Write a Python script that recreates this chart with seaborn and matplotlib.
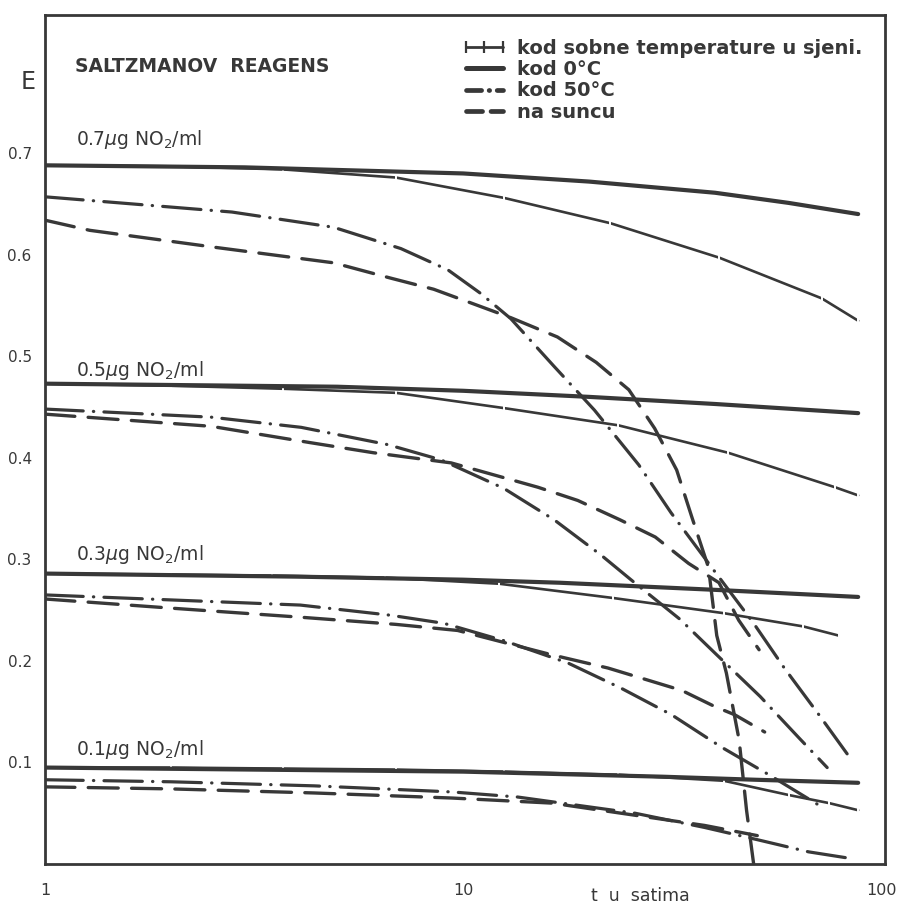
import numpy as np
import pandas as pd
import matplotlib
matplotlib.use("Agg")
import matplotlib.pyplot as plt
from matplotlib.lines import Line2D
from matplotlib.ticker import NullLocator, FixedLocator
import seaborn as sns

# ---------------- data ----------------
# 0.7 ug NO2/ml
room07_t = [1, 2, 3.7, 6.9, 12.5, 22.5, 41, 72, 88]
room07_E = [0.688, 0.687, 0.684, 0.676, 0.656, 0.631, 0.597, 0.557, 0.535]
zero07_t = [1, 3, 10, 20, 40, 60, 88]
zero07_E = [0.688, 0.686, 0.680, 0.672, 0.661, 0.651, 0.640]
fifty07_t = [1, 2.8, 4.9, 7.1, 9.2, 11, 13.0, 16.5, 20.6, 26.3, 31.4, 39.3, 49.5, 58.6, 70.9, 84]
fifty07_E = [0.657, 0.642, 0.627, 0.606, 0.585, 0.562, 0.537, 0.490, 0.447, 0.393, 0.346, 0.292, 0.237, 0.193, 0.147, 0.105]
sun07_t = [1, 1.28, 2.58, 4.9, 6.7, 8.5, 10.05, 13, 16.8, 20.8, 24.9, 28.7, 32.4, 35.2, 38.6, 40.4, 42.6, 45.7, 47.6, 49.5]
sun07_E = [0.634, 0.624, 0.607, 0.592, 0.577, 0.566, 0.555, 0.538, 0.519, 0.494, 0.467, 0.429, 0.388, 0.342, 0.292, 0.225, 0.188, 0.122, 0.053, 0.0]

# 0.5 ug NO2/ml
room05_t = [1, 2, 3.7, 6.9, 12.5, 23.5, 43, 77.5, 88]
room05_E = [0.473, 0.471, 0.468, 0.464, 0.449, 0.432, 0.405, 0.371, 0.363]
zero05_t = [1, 5, 10, 20, 40, 88]
zero05_E = [0.473, 0.470, 0.466, 0.460, 0.453, 0.444]
fifty05_t = [1, 2.5, 4.1, 6.6, 8.85, 12.5, 16.5, 21.4, 25.7, 33.0, 40.4, 51.3, 63.6, 74.2]
fifty05_E = [0.448, 0.440, 0.430, 0.413, 0.398, 0.370, 0.339, 0.304, 0.277, 0.241, 0.206, 0.165, 0.124, 0.095]
sun05_t = [1, 2.5, 4.3, 6.1, 9.36, 15.1, 18.8, 23.7, 28.8, 34.6, 40.9, 45.6, 51]
sun05_E = [0.443, 0.431, 0.415, 0.405, 0.395, 0.371, 0.358, 0.339, 0.322, 0.296, 0.277, 0.240, 0.211]

# 0.3 ug NO2/ml
room03_t = [1, 2, 3.5, 6.5, 12.2, 22.8, 42, 65, 79]
room03_E = [0.286, 0.285, 0.284, 0.282, 0.276, 0.262, 0.247, 0.234, 0.225]
zero03_t = [1, 4, 10, 17, 40, 88]
zero03_E = [0.286, 0.283, 0.280, 0.277, 0.270, 0.263]
fifty03_t = [1, 4.08, 6.7, 9.0, 12.5, 17.8, 23.9, 31.5, 41.5, 53.8, 72.2]
fifty03_E = [0.265, 0.255, 0.245, 0.237, 0.220, 0.198, 0.173, 0.147, 0.115, 0.088, 0.056]
sun03_t = [1, 2, 4.1, 6.9, 9.7, 16.3, 22.2, 26.7, 33.3, 40, 44.6, 52.6]
sun03_E = [0.261, 0.252, 0.243, 0.236, 0.230, 0.206, 0.193, 0.183, 0.171, 0.155, 0.147, 0.130]

# 0.1 ug NO2/ml
room01_t = [1, 2, 3.7, 6.9, 12.5, 23.4, 42, 60, 75, 88]
room01_E = [0.095, 0.095, 0.094, 0.093, 0.091, 0.088, 0.082, 0.068, 0.060, 0.053]
zero01_t = [1, 10, 30, 50, 88]
zero01_E = [0.095, 0.091, 0.086, 0.083, 0.080]
fifty01_t = [1, 2, 4.4, 9.4, 13.5, 25.8, 37.8, 50.5, 67, 86]
fifty01_E = [0.083, 0.081, 0.077, 0.071, 0.066, 0.050, 0.036, 0.024, 0.012, 0.005]
sun01_t = [1, 2, 4.4, 9.4, 16.3, 25.8, 37.8, 50.5]
sun01_E = [0.076, 0.074, 0.070, 0.065, 0.060, 0.048, 0.038, 0.028]

conditions = ["kod sobne temperature u sjeni.", "kod 0°C", "kod 50°C", "na suncu"]
concentrations = ["0.7", "0.5", "0.3", "0.1"]
y_ticks = [0.1, 0.2, 0.3, 0.4, 0.5, 0.6, 0.7]
x_ticks = [1, 10, 100]

series = {
    ("0.7", conditions[0]): (room07_t, room07_E),
    ("0.7", conditions[1]): (zero07_t, zero07_E),
    ("0.7", conditions[2]): (fifty07_t, fifty07_E),
    ("0.7", conditions[3]): (sun07_t, sun07_E),
    ("0.5", conditions[0]): (room05_t, room05_E),
    ("0.5", conditions[1]): (zero05_t, zero05_E),
    ("0.5", conditions[2]): (fifty05_t, fifty05_E),
    ("0.5", conditions[3]): (sun05_t, sun05_E),
    ("0.3", conditions[0]): (room03_t, room03_E),
    ("0.3", conditions[1]): (zero03_t, zero03_E),
    ("0.3", conditions[2]): (fifty03_t, fifty03_E),
    ("0.3", conditions[3]): (sun03_t, sun03_E),
    ("0.1", conditions[0]): (room01_t, room01_E),
    ("0.1", conditions[1]): (zero01_t, zero01_E),
    ("0.1", conditions[2]): (fifty01_t, fifty01_E),
    ("0.1", conditions[3]): (sun01_t, sun01_E),
}

rows = []
for (c, cond), (ts, es) in series.items():
    for t, e in zip(ts, es):
        rows.append({"conc": c, "cond": cond, "t": t, "E": e})
df = pd.DataFrame(rows)

# ---------------- styling ----------------
sns.set_style("white")
plt.rcParams["font.family"] = ["DejaVu Sans"]
INK = "#383838"

styles = {
    conditions[0]: dict(lw=1.9, linestyle="-", marker="|", markersize=7, markeredgewidth=1.4),
    conditions[1]: dict(lw=3.0, linestyle="-"),
    conditions[2]: dict(lw=2.3, linestyle=(0, (12, 3.2, 0.1, 3.2)), dash_capstyle="round"),
    conditions[3]: dict(lw=2.4, linestyle=(0, (9, 4)), dash_capstyle="round"),
}
legend_styles = [
    dict(lw=2.0, linestyle="-", marker="|", markersize=8, markeredgewidth=1.6),
    dict(lw=3.6, linestyle="-"),
    dict(lw=3.4, linestyle=(0, (3.2, 1.6, 0.1, 1.6)), dash_capstyle="round"),
    dict(lw=3.4, linestyle=(0, (3.4, 1.8)), dash_capstyle="round"),
]

fig = plt.figure(figsize=(8.98, 9.10), dpi=100)
ax = fig.add_axes([0.050, 0.0505, 0.9355, 0.933])
ax.set_xscale("log")

for (c, cond), sub in df.groupby(["conc", "cond"], sort=False):
    sns.lineplot(data=sub, x="t", y="E", ax=ax, color=INK, estimator=None,
                 sort=False, legend=False, solid_capstyle="round", **styles[cond])

ax.set_xlim(1, 102)
ax.set_ylim(0, 0.836)
ax.xaxis.set_major_locator(FixedLocator(x_ticks))
ax.xaxis.set_minor_locator(NullLocator())
ax.set_xticklabels([str(v) for v in x_ticks])
ax.set_yticks(y_ticks)
ax.set_yticklabels([f"{v:.1f}" for v in y_ticks])
ax.tick_params(axis="y", direction="inout", length=7, width=1.5, color=INK,
               labelsize=11, pad=6, labelcolor=INK)
ax.tick_params(axis="x", direction="in", length=7, width=1.5, color=INK,
               labelsize=11.5, pad=14, labelcolor=INK)
ax.set_xlabel("")
ax.set_ylabel("")
for s in ax.spines.values():
    s.set_color(INK)
    s.set_linewidth(2.0)

# annotations
ax.text(1.18, 0.780, "SALTZMANOV  REAGENS", fontsize=13.5, fontweight="bold",
        color=INK, va="baseline", ha="left")
for c, yv in zip(concentrations, [0.708, 0.481, 0.299, 0.107]):
    ax.text(1.19, yv, f"{c}$\\mu$g NO$_2$/ml", fontsize=13.5, color=INK,
            va="baseline", ha="left")

fig.text(28 / 898, 1 - 82 / 910, "E", fontsize=17, color=INK, ha="center", va="center")
fig.text(640 / 898, 1 - 896 / 910, "t  u  satima", fontsize=12.5, color=INK,
         ha="center", va="center")

# legend
handles = [Line2D([], [], color=INK, **st) for st in legend_styles]
leg = ax.legend(handles, conditions, loc="upper left", bbox_to_anchor=(0.494, 0.972),
                frameon=False, numpoints=3, handlelength=2.5, handletextpad=0.45,
                labelspacing=0.12, borderpad=0, borderaxespad=0,
                prop=dict(size=14, weight="bold"))
for txt in leg.get_texts():
    txt.set_color(INK)

fig.savefig("out.png", dpi=100, facecolor="white")
